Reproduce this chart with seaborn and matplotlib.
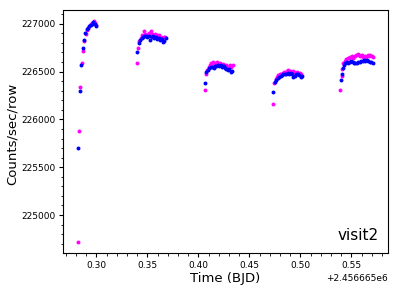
import numpy as np
import pandas as pd
import matplotlib
matplotlib.use("Agg")
import matplotlib.pyplot as plt
from matplotlib.ticker import AutoMinorLocator
import seaborn as sns

# ---------------------------
# Light curve data (time offset from 2456665 BJD)
# ---------------------------
blue_time = [
    0.2824, 0.2840, 0.2852, 0.2867, 0.2880, 0.2893, 0.2906, 0.2919, 0.2932, 0.2945, 0.2958, 0.2971, 0.2984, 0.2997,
    0.3402, 0.3416, 0.3430, 0.3444, 0.3458, 0.3472, 0.3486, 0.3500, 0.3514, 0.3528, 0.3542, 0.3556, 0.3570, 0.3584,
    0.3598, 0.3612, 0.3626, 0.3640, 0.3654, 0.3668, 0.3682,
    0.4069, 0.4079, 0.4093, 0.4107, 0.4121, 0.4135, 0.4149, 0.4163, 0.4177, 0.4191, 0.4205, 0.4219, 0.4233, 0.4247,
    0.4261, 0.4275, 0.4289, 0.4303, 0.4317, 0.4331,
    0.4735, 0.4749, 0.4763, 0.4777, 0.4791, 0.4805, 0.4819, 0.4833, 0.4847, 0.4861, 0.4875, 0.4889, 0.4903, 0.4917,
    0.4931, 0.4945, 0.4959, 0.4973, 0.4987, 0.5001, 0.5015,
    0.5399, 0.5406, 0.5413, 0.5427, 0.5441, 0.5455, 0.5469, 0.5483, 0.5497, 0.5511, 0.5525, 0.5539, 0.5553, 0.5567,
    0.5581, 0.5595, 0.5609, 0.5623, 0.5637, 0.5651, 0.5665, 0.5679, 0.5693, 0.5707,
]
blue_counts = [
    225700, 226300, 226570, 226750, 226830, 226900, 226950, 226960, 226975, 226985, 227000, 227020, 227000, 226975,
    226710, 226800, 226830, 226850, 226860, 226870, 226870, 226860, 226870, 226830, 226860, 226870, 226850, 226860,
    226840, 226850, 226830, 226840, 226810, 226820, 226850,
    226380, 226500, 226520, 226540, 226545, 226550, 226540, 226560, 226555, 226570, 226560, 226565, 226550, 226555,
    226540, 226530, 226520, 226530, 226500, 226510,
    226290, 226390, 226410, 226430, 226440, 226450, 226460, 226470, 226470, 226480, 226490, 226480, 226490, 226470,
    226440, 226450, 226470, 226480, 226460, 226440, 226450,
    226410, 226480, 226540, 226570, 226590, 226600, 226590, 226600, 226610, 226600, 226590, 226590, 226590, 226600,
    226600, 226610, 226610, 226620, 226610, 226620, 226610, 226600, 226600, 226590,
]

magenta_time = [
    0.2817, 0.2827, 0.2843, 0.2855, 0.2870, 0.2883, 0.2896, 0.2909, 0.2922, 0.2935, 0.2948, 0.2961, 0.2974, 0.2987, 0.3000,
    0.3395, 0.3409, 0.3423, 0.3437, 0.3451, 0.3465, 0.3479, 0.3493, 0.3507, 0.3521, 0.3535, 0.3549, 0.3563, 0.3577,
    0.3591, 0.3605, 0.3619, 0.3633, 0.3647, 0.3661, 0.3675,
    0.4062, 0.4072, 0.4086, 0.4100, 0.4114, 0.4128, 0.4142, 0.4156, 0.4170, 0.4184, 0.4198, 0.4212, 0.4226, 0.4240,
    0.4254, 0.4268, 0.4282, 0.4296, 0.4310, 0.4324, 0.4338,
    0.4728, 0.4742, 0.4756, 0.4770, 0.4784, 0.4798, 0.4812, 0.4826, 0.4840, 0.4854, 0.4868, 0.4882, 0.4896, 0.4910,
    0.4924, 0.4938, 0.4952, 0.4966, 0.4980, 0.4994, 0.5008,
    0.5392, 0.5403, 0.5410, 0.5420, 0.5434, 0.5448, 0.5462, 0.5476, 0.5490, 0.5504, 0.5518, 0.5532, 0.5546, 0.5560,
    0.5574, 0.5588, 0.5602, 0.5616, 0.5630, 0.5644, 0.5658, 0.5672, 0.5686, 0.5700, 0.5714,
]
magenta_counts = [
    224720, 225880, 226340, 226590, 226720, 226820, 226890, 226930, 226960, 226990, 227000, 227010, 227030, 227010, 226990,
    226590, 226750, 226820, 226850, 226880, 226920, 226890, 226880, 226890, 226900, 226920, 226890, 226880, 226890,
    226880, 226870, 226880, 226860, 226850, 226860, 226860,
    226310, 226470, 226520, 226550, 226570, 226590, 226600, 226580, 226590, 226600, 226580, 226590, 226570, 226580,
    226560, 226570, 226560, 226550, 226570, 226550, 226570,
    226160, 226380, 226420, 226440, 226460, 226470, 226480, 226490, 226500, 226500, 226510, 226520, 226510, 226500,
    226510, 226500, 226490, 226500, 226480, 226490, 226480,
    226310, 226450, 226530, 226590, 226610, 226630, 226640, 226640, 226650, 226660, 226640, 226660, 226670, 226680,
    226670, 226660, 226670, 226650, 226660, 226650, 226670, 226660, 226670, 226660, 226650,
]

t0 = 2456665.0
blue_df = pd.DataFrame({"time": np.array(blue_time) + t0, "counts": blue_counts})
magenta_df = pd.DataFrame({"time": np.array(magenta_time) + t0, "counts": magenta_counts})

sns.set_style("ticks")
plt.rcParams["font.family"] = ["DejaVu Sans"]

fig = plt.figure(figsize=(3.98, 2.90), dpi=100)
ax = fig.add_axes([0.158, 0.128, 0.817, 0.838])

sns.scatterplot(data=magenta_df, x="time", y="counts", color="#ff00ff", s=8,
                linewidth=0, marker="o", ax=ax)
sns.scatterplot(data=blue_df, x="time", y="counts", color="#0000ff", s=8,
                linewidth=0, marker="o", ax=ax)

ax.set_xlabel("Time (BJD)", fontsize=9.5, color="black", labelpad=2)
ax.set_ylabel("Counts/sec/row", fontsize=9.5, color="black")
ax.yaxis.set_label_coords(-0.135, 0.49)
ax.tick_params(axis="both", which="major", labelsize=6.5, length=3, width=0.8,
               direction="out", pad=2.5, colors="black")
ax.tick_params(axis="both", which="minor", length=1.8, width=0.6, direction="out", colors="black")
ax.xaxis.set_minor_locator(AutoMinorLocator(5))
ax.yaxis.set_minor_locator(AutoMinorLocator(5))
ax.xaxis.get_offset_text().set_fontsize(6.5)
for sp in ax.spines.values():
    sp.set_color("black")
    sp.set_linewidth(0.8)

ax.text(0.97, 0.04, "visit2", transform=ax.transAxes, ha="right", va="bottom",
        fontsize=11, color="black")

fig.savefig("out.png", dpi=100)
